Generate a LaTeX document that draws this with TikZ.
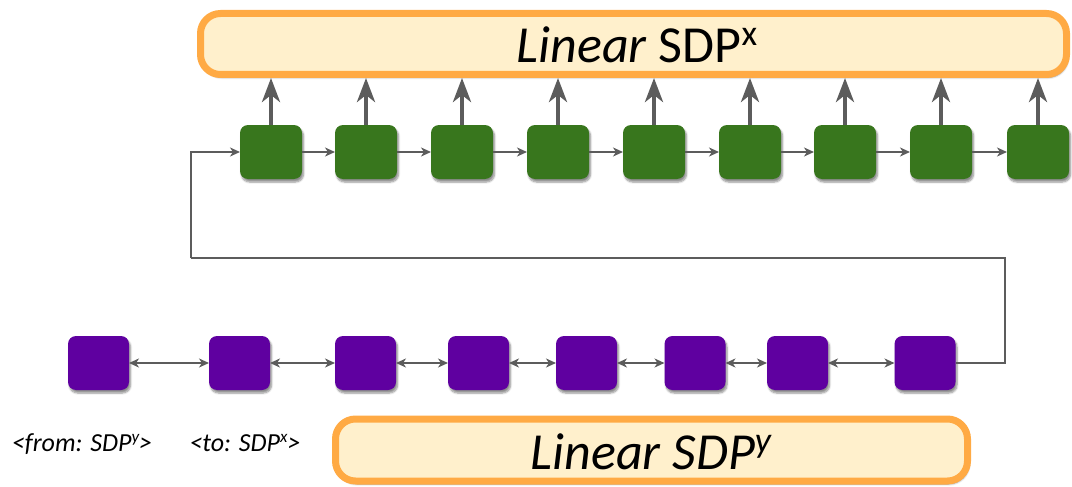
\documentclass[tikz,border=0pt]{standalone}
\usepackage{fontspec}
\setmainfont{Carlito}
\usetikzlibrary{arrows.meta,shadows.blur}

\definecolor{cellgreen}{HTML}{38761D}
\definecolor{cellpurple}{HTML}{5F00A0}
\definecolor{barfill}{HTML}{FFF0CC}
\definecolor{barline}{HTML}{FFAA44}
\definecolor{wire}{HTML}{5C5C5C}

% raised index: size, raise, text
\newcommand{\rindex}[3]{\raisebox{#2}{\fontsize{#1}{#1}\selectfont #3}}

\tikzset{
  cellshadow/.style={blur shadow={shadow xshift=1.5pt, shadow yshift=-3pt,
      shadow blur steps=6, shadow opacity=45}},
  greencell/.style={fill=cellgreen, rounded corners=8pt, minimum width=62pt,
      minimum height=54pt, inner sep=0pt, outer sep=0pt, cellshadow},
  purplecell/.style={fill=cellpurple, rounded corners=8pt, minimum width=61pt,
      minimum height=54pt, inner sep=0pt, outer sep=0pt, cellshadow},
  sdpbar/.style={draw=barline, fill=barfill, line width=7pt, rounded corners=20pt,
      inner sep=0pt, cellshadow},
  uparrow/.style={draw=wire, line width=4pt,
      -{Stealth[length=24pt,width=18pt,inset=7pt]}},
  linkarrow/.style={draw=wire, line width=1.8pt,
      -{Stealth[length=10pt,width=9pt,inset=3pt]}},
  bilink/.style={draw=wire, line width=1.8pt,
      {Stealth[length=10pt,width=9pt,inset=3pt]}-{Stealth[length=10pt,width=9pt,inset=3pt]}},
  plainlink/.style={draw=wire, line width=1.8pt},
  bartext/.style={font=\fontsize{52}{60}\selectfont, inner sep=0pt, anchor=base},
  tagtext/.style={font=\fontsize{26}{30}\selectfont\itshape, inner sep=0pt, anchor=base},
}

\begin{document}
\begin{tikzpicture}[x=1pt, y=-1pt]
\useasboundingbox (0,0) rectangle (1072,487);

% projection bars
\node[sdpbar, minimum width=866pt, minimum height=61pt] (linx) at (633.5,44) {};
\node[bartext] (linxt) at (637,63) {\textit{Linear} SDP\rindex{36}{17pt}{x}};
\node[sdpbar, minimum width=632pt, minimum height=62pt] (liny) at (651.5,450) {};
\node[bartext] (linyt) at (651,469) {\itshape Linear SDP\rindex{36}{17pt}{y}};

% recurrent cells (target side)
\foreach \i/\x in {1/271,2/366,3/462,4/558,5/654,6/750,7/845,8/941,9/1038}
  \node[greencell] (g\i) at (\x,152) {};

% cells (source side)
\foreach \i/\x in {1/98.5,2/239.5,3/365.5,4/478.5,5/586.5,6/695,7/797.5,8/925}
  \node[purplecell] (p\i) at (\x,363) {};

% outputs into the linear layer
\foreach \i in {1,...,9}
  \draw[uparrow] (g\i.north) -- (g\i.north |- linx.south);

% recurrence along the target chain
\foreach \i [evaluate=\i as \j using int(\i+1)] in {1,...,8}
  \draw[linkarrow] (g\i.east) -- (g\j.west);

% bidirectional links along the source chain
\foreach \i [evaluate=\i as \j using int(\i+1)] in {1,...,7}
  \draw[bilink] (p\i.east) -- (p\j.west);

% hand-over from the last source cell to the first target cell
\coordinate (fbr) at (1005,258);
\coordinate (fbl) at (191,258);
\draw[plainlink] (p8.east) -| (fbr) -- (fbl);
\draw[linkarrow] (fbl) |- (g1.west);

% boundary tags
\node[tagtext] (tfrom) at (82,451) {<from: SDP\rindex{17}{8.5pt}{y}>};
\node[tagtext] (tto) at (245,451) {<to: SDP\rindex{17}{8.5pt}{x}>};
\end{tikzpicture}
\end{document}
